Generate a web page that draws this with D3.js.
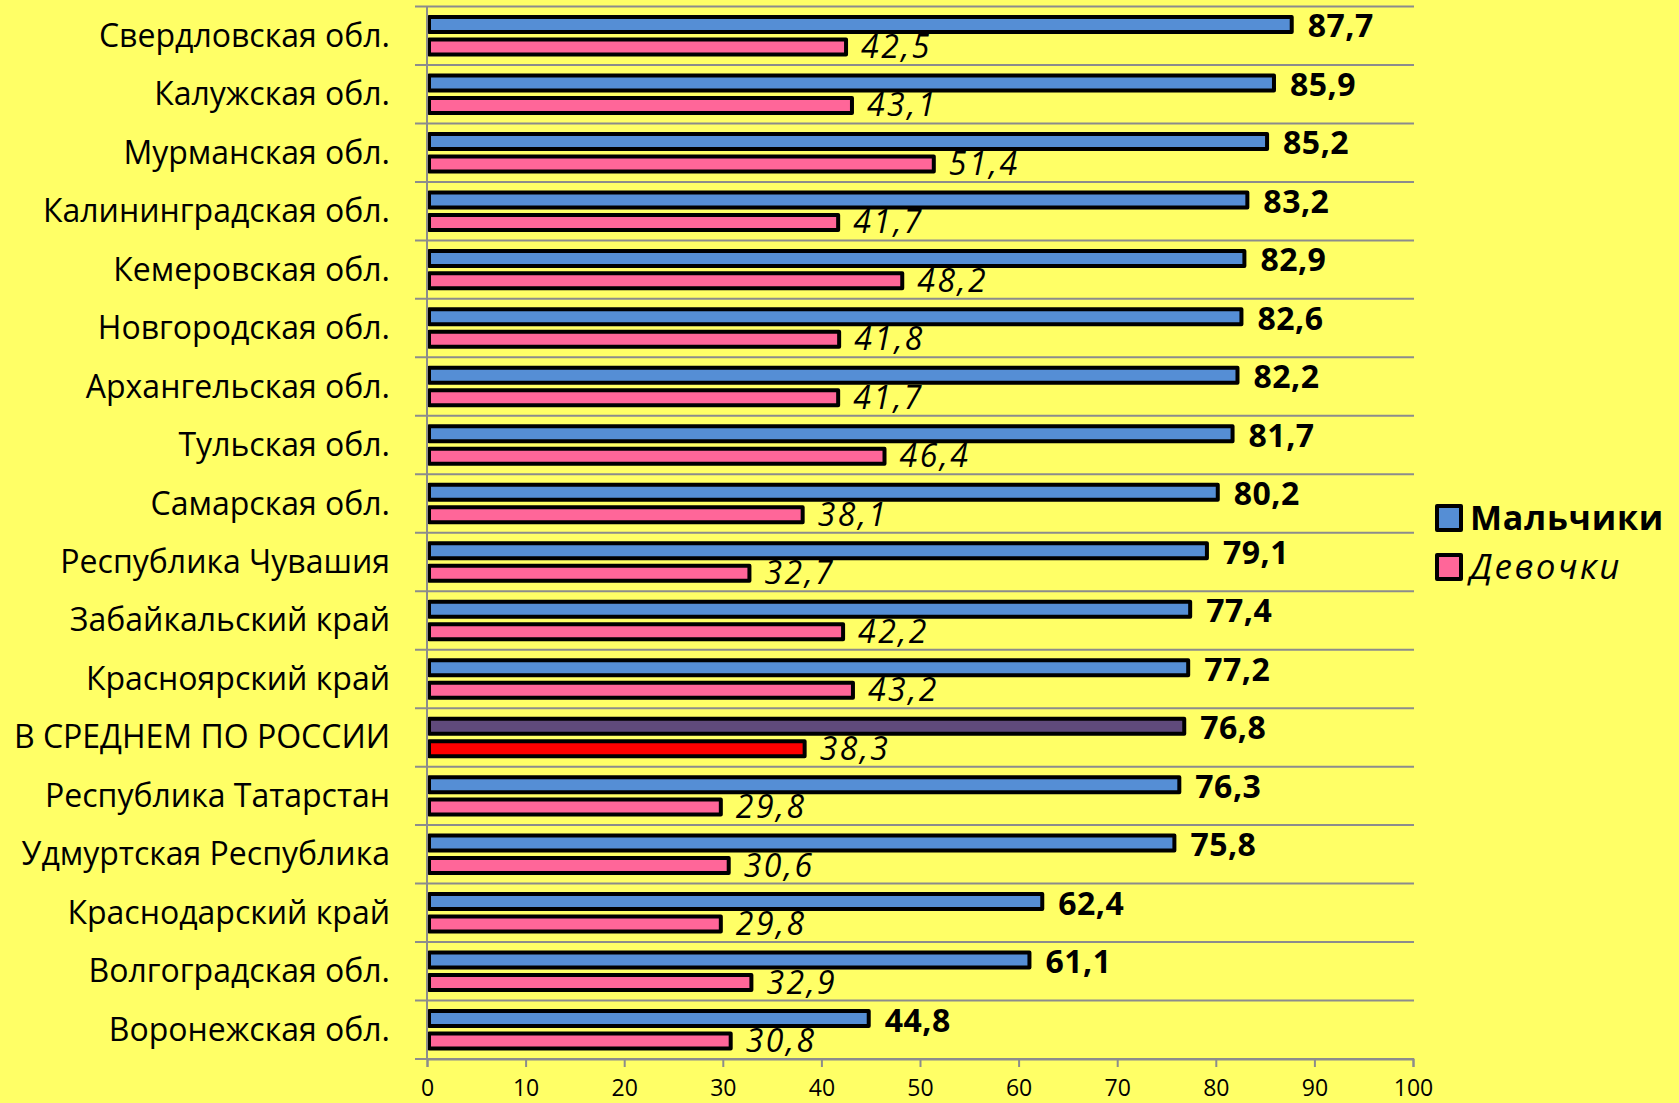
<!DOCTYPE html>
<html><head><meta charset="utf-8">
<script src="https://cdn.jsdelivr.net/npm/d3@7/dist/d3.min.js"></script>
<style>
html,body{margin:0;padding:0;background:#FFFF66;}
svg{display:block;}
text{font-family:"Open Sans",sans-serif;}
</style></head>
<body>
<svg id="chart" width="1679" height="1103"></svg>
<script>
const categories = ["Свердловская обл.","Калужская обл.","Мурманская обл.","Калининградская обл.","Кемеровская обл.","Новгородская обл.","Архангельская обл.","Тульская обл.","Самарская обл.","Республика Чувашия","Забайкальский край","Красноярский край","В СРЕДНЕМ ПО РОССИИ","Республика Татарстан","Удмуртская Республика","Краснодарский край","Волгоградская обл.","Воронежская обл."];
const boys  = [87.7,85.9,85.2,83.2,82.9,82.6,82.2,81.7,80.2,79.1,77.4,77.2,76.8,76.3,75.8,62.4,61.1,44.8];
const girls = [42.5,43.1,51.4,41.7,48.2,41.8,41.7,46.4,38.1,32.7,42.2,43.2,38.3,29.8,30.6,29.8,32.9,30.8];
const seriesNames = ["Мальчики","Девочки"];
const xTicks = [0,10,20,30,40,50,60,70,80,90,100];
const highlight = "В СРЕДНЕМ ПО РОССИИ";

const colors = {boys:"#558ED5", girls:"#FF6699", boysAvg:"#604A7B", girlsAvg:"#FF0000"};

const svg = d3.select("#chart");
const x = d3.scaleLinear().domain([0,100]).range([427,1413]);
const y = d3.scaleBand().domain(categories).range([6.5,1059]);
const sub = d3.scaleBand().domain(["b","g"]).range([0,y.bandwidth()]).paddingInner(0.333).paddingOuter(0.467);

svg.append("rect").attr("width",1679).attr("height",1103).attr("fill","#FFFF66");

// gridlines at category boundaries
const bounds = categories.map(c=>y(c)).concat([y.range()[1]]);
svg.append("g").selectAll("line").data(bounds).join("line")
  .attr("x1",415).attr("x2",1414).attr("y1",d=>d).attr("y2",d=>d)
  .attr("stroke","#8C8C8C").attr("stroke-width",2);

const rows = categories.map((c,i)=>({c, b:boys[i], g:girls[i]}));
const barH = sub.bandwidth();

const gB = svg.append("g");
gB.selectAll("rect.b").data(rows).join("rect").attr("class","b")
  .attr("x",x(0)+2).attr("y",d=>y(d.c)+sub("b"))
  .attr("width",d=>x(d.b)-x(0)-2).attr("height",barH)
  .attr("fill",d=>d.c===highlight?colors.boysAvg:colors.boys)
  .attr("stroke","#000").attr("stroke-width",4).attr("stroke-linejoin","round");
gB.selectAll("rect.g").data(rows).join("rect").attr("class","g")
  .attr("x",x(0)+2).attr("y",d=>y(d.c)+sub("g"))
  .attr("width",d=>x(d.g)-x(0)-2).attr("height",barH)
  .attr("fill",d=>d.c===highlight?colors.girlsAvg:colors.girls)
  .attr("stroke","#000").attr("stroke-width",4).attr("stroke-linejoin","round");

// value labels
const fmt = v => d3.format(".1f")(v).replace(".",",");
svg.append("g").selectAll("text").data(rows).join("text")
  .attr("x",d=>x(d.b)+16).attr("y",d=>y(d.c)+sub("b")+barH/2+13)
  .attr("font-size",32).attr("font-weight","bold").attr("fill","#000").attr("letter-spacing",0.5)
  .text(d=>fmt(d.b));
svg.append("g").selectAll("text").data(rows).join("text")
  .attr("x",d=>x(d.g)+15).attr("y",d=>y(d.c)+sub("g")+barH/2+11)
  .attr("font-size",32).attr("font-style","italic").attr("fill","#000").attr("letter-spacing",2.5)
  .text(d=>fmt(d.g));

// category axis line and labels
svg.append("line").attr("x1",x(0)).attr("x2",x(0)).attr("y1",6.5).attr("y2",1059)
  .attr("stroke","#8C8C8C").attr("stroke-width",2);
svg.append("g").selectAll("text").data(categories).join("text")
  .attr("x",390).attr("y",d=>y(d)+y.bandwidth()/2+11)
  .attr("text-anchor","end").attr("font-size",32).attr("fill","#000")
  .text(d=>d);

// x axis
const xAxis = d3.axisBottom(x).tickValues(xTicks).tickSize(8).tickPadding(10).tickFormat(d3.format("d"));
const ax = svg.append("g").attr("transform","translate(0,1059)").call(xAxis);
ax.select(".domain").attr("stroke","#8C8C8C").attr("stroke-width",2);
ax.selectAll(".tick line").attr("stroke","#8C8C8C").attr("stroke-width",2);
ax.selectAll(".tick text").attr("font-size",23).attr("font-family","Open Sans").attr("fill","#000")
  .attr("y",0).attr("dy",null).attr("dominant-baseline","alphabetic").attr("transform","translate(0,37)");

// legend
const leg = svg.append("g");
const legItems = [{n:seriesNames[0], c:colors.boys, bold:true, y:518},{n:seriesNames[1], c:colors.girls, bold:false, y:567}];
leg.selectAll("rect").data(legItems).join("rect")
  .attr("x",1437).attr("y",d=>d.y-12).attr("width",24).attr("height",24)
  .attr("fill",d=>d.c).attr("stroke","#000").attr("stroke-width",4).attr("stroke-linejoin","round");
leg.selectAll("text").data(legItems).join("text")
  .attr("x",1470).attr("y",d=>d.y+12)
  .attr("font-size",d=>d.bold?34:35).attr("font-weight",d=>d.bold?"bold":"normal")
  .attr("letter-spacing",d=>d.bold?0.8:2.5)
  .attr("font-style",d=>d.bold?"normal":"italic").attr("fill","#000")
  .text(d=>d.n);
</script>
</body></html>
